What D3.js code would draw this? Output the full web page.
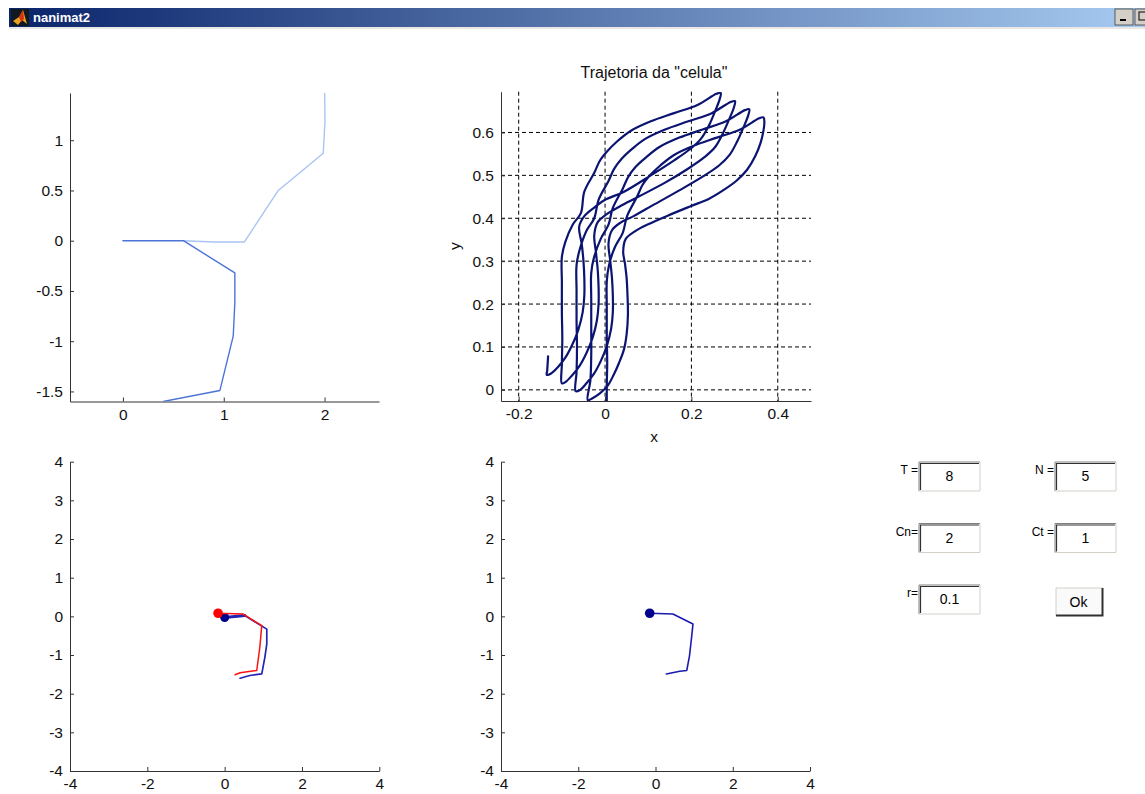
<!DOCTYPE html>
<html>
<head>
<meta charset="utf-8">
<script src="https://cdn.jsdelivr.net/npm/d3@7"></script>
<style>
body { margin: 0; background: #fff; }
svg { display: block; font-family: "Liberation Sans", Arial, sans-serif; }
</style>
</head>
<body>
<script>
// top-left: the "cell" shape, two segments
var shapeDark = [[0,0],[0.6,0],[1.11,-0.32],[1.11,-0.62],[1.094,-0.95],[0.962,-1.49],[0.4,-1.6]];
var shapeLight = [[0.6,0],[0.9,-0.013],[1.204,-0.013],[1.541,0.5],[1.987,0.87],[2.004,1.186],[2.0,1.6]];

// top-right: trajectory of the "celula"
var trajStart = [[-0.132,0.078],[-0.134,0.045],[-0.135,0.035]];
var loop1 = [[-0.125,0.038],[-0.11,0.052],[-0.092,0.075],[-0.076,0.105],[-0.062,0.14],[-0.052,0.18],[-0.048,0.22],[-0.048,0.26],[-0.05,0.3],[-0.054,0.34],[-0.06,0.38],
  [-0.048,0.405],[-0.025,0.425],[0.0,0.443],[0.044,0.462],[0.106,0.5],[0.16,0.535],[0.198,0.562],[0.222,0.585],[0.24,0.615],[0.255,0.65],[0.265,0.676],[0.268,0.692],
  [0.258,0.69],[0.214,0.664],[0.16,0.645],[0.106,0.626],[0.06,0.604],[0.029,0.58],[0.005,0.556],[-0.012,0.534],[-0.025,0.506],[-0.048,0.462],[-0.056,0.412],[-0.075,0.385],[-0.092,0.345],[-0.1,0.31],[-0.1,0.25],[-0.1,0.18],[-0.099,0.12],[-0.1,0.06],[-0.1,0.015]];
var loop2 = [[-0.092,0.018],[-0.077,0.033],[-0.059,0.056],[-0.043,0.086],[-0.029,0.121],[-0.019,0.161],[-0.015,0.2],[-0.015,0.24],[-0.017,0.28],[-0.021,0.32],[-0.025,0.36],
  [-0.017,0.391],[0.003,0.409],[0.033,0.427],[0.077,0.45],[0.139,0.483],[0.193,0.516],[0.231,0.543],[0.255,0.566],[0.273,0.598],[0.288,0.632],[0.298,0.657],[0.301,0.673],
  [0.291,0.671],[0.247,0.645],[0.193,0.626],[0.139,0.607],[0.093,0.585],[0.062,0.561],[0.038,0.538],[0.021,0.515],[0.008,0.487],[-0.015,0.443],[-0.025,0.4],[-0.043,0.371],[-0.059,0.326],[-0.066,0.291],[-0.066,0.231],[-0.066,0.161],[-0.065,0.101],[-0.066,0.041],[-0.068,-0.003]];
var loop3 = [[-0.059,-0.001],[-0.044,0.014],[-0.026,0.037],[-0.01,0.067],[0.004,0.102],[0.014,0.142],[0.018,0.181],[0.018,0.221],[0.016,0.261],[0.012,0.301],[0.008,0.341],
  [0.016,0.372],[0.036,0.39],[0.066,0.405],[0.11,0.43],[0.172,0.465],[0.226,0.497],[0.264,0.523],[0.288,0.547],[0.306,0.579],[0.321,0.613],[0.331,0.638],[0.334,0.654],
  [0.324,0.652],[0.28,0.626],[0.226,0.607],[0.172,0.588],[0.126,0.566],[0.095,0.542],[0.071,0.52],[0.054,0.497],[0.041,0.469],[0.018,0.424],[0.008,0.385],[-0.01,0.352],[-0.026,0.307],[-0.032,0.272],[-0.032,0.212],[-0.032,0.142],[-0.032,0.082],[-0.034,0.022],[-0.04,-0.024]];
var loop4 = [[-0.03,-0.02],[-0.012,-0.008],[0.005,0.008],[0.02,0.035],[0.032,0.062],[0.044,0.095],[0.05,0.13],[0.053,0.175],[0.052,0.22],[0.05,0.26],[0.046,0.295],[0.042,0.322],
  [0.048,0.352],[0.07,0.37],[0.1,0.386],[0.145,0.406],[0.198,0.428],[0.24,0.445],[0.275,0.466],[0.305,0.488],[0.329,0.513],[0.348,0.545],[0.36,0.575],[0.367,0.605],[0.369,0.625],[0.367,0.635],
  [0.357,0.633],[0.313,0.607],[0.259,0.588],[0.205,0.569],[0.159,0.547],[0.128,0.523],[0.104,0.5],[0.087,0.478],[0.074,0.45],[0.051,0.405],[0.041,0.366],[0.023,0.333],[0.009,0.29],[0.004,0.253],[0.004,0.193],[0.004,0.123],[0.005,0.063],[0.004,0.01],[0.004,-0.03]];

// bottom plots: cells with their heads
var blueCell = [[0,-0.03],[0.52,0.02],[1.09,-0.33],[1.09,-0.71],[1.04,-1.06],[0.96,-1.49],[0.65,-1.53],[0.4,-1.6]];
var redCell = [[-0.17,0.08],[0.48,0.06],[0.96,-0.24],[0.91,-0.8],[0.83,-1.4],[0.4,-1.46],[0.27,-1.51]];
var cellRight = [[-0.15,0.08],[0.45,0.06],[0.97,-0.2],[0.93,-0.58],[0.88,-1.02],[0.81,-1.4],[0.63,-1.42],[0.28,-1.49]];

// tick values
var tlX = [0, 1, 2], tlY = [-1.5, -1, -0.5, 0, 0.5, 1];
var trX = [-0.2, 0, 0.2, 0.4], trY = [0, 0.1, 0.2, 0.3, 0.4, 0.5, 0.6];
var bX = [-4, -2, 0, 2, 4], bY = [-4, -3, -2, -1, 0, 1, 2, 3, 4];

// input fields
var paramNames = ["T =", "N =", "Cn=", "Ct =", "r="];
var paramValues = ["8", "5", "2", "1", "0.1"];

var W = 1145, H = 794;
var svg = d3.select("body").append("svg").attr("width", W).attr("height", H);
svg.append("rect").attr("width", W).attr("height", H).attr("fill", "#fff");

// window title bar
var defs = svg.append("defs");
var grad = defs.append("linearGradient").attr("id", "tbar");
grad.append("stop").attr("offset", "0%").attr("stop-color", "#0a246a");
grad.append("stop").attr("offset", "100%").attr("stop-color", "#a6caf0");
svg.append("rect").attr("x", 9).attr("y", 8).attr("width", W - 9).attr("height", 19).attr("fill", "url(#tbar)");
svg.append("line").attr("x1", 9).attr("x2", W).attr("y1", 28).attr("y2", 28).attr("stroke", "#d4d0c8");
// little matlab icon
svg.append("rect").attr("x", 11).attr("y", 9).attr("width", 18).attr("height", 17).attr("fill", "#101820");
svg.append("path").attr("d", "M13,21 L19,17 L23,10 L27,24 L22,20 L18,25 Z").attr("fill", "#e8a020");
svg.append("path").attr("d", "M19,17 L23,10 L24,19 L21,22 Z").attr("fill", "#d83010");
svg.append("text").attr("x", 33).attr("y", 22).attr("fill", "#fff").attr("font-weight", "bold")
  .attr("font-size", 13).text("nanimat2");
svg.append("rect").attr("x", 1115).attr("y", 9).attr("width", 18).attr("height", 16).attr("fill", "#d4d0c8")
  .attr("stroke", "#404040").attr("stroke-width", 0.8);
svg.append("rect").attr("x", 1120).attr("y", 19).attr("width", 6).attr("height", 2).attr("fill", "#000");
svg.append("rect").attr("x", 1135).attr("y", 9).attr("width", 12).attr("height", 16).attr("fill", "#d4d0c8")
  .attr("stroke", "#404040").attr("stroke-width", 0.8);
svg.append("rect").attr("x", 1139).attr("y", 12).attr("width", 8).attr("height", 8).attr("fill", "none").attr("stroke", "#000");

var fmt = function(d) { return String(d); };
var clipN = 0;

function panel(box, xd, yd, xt, yt, grid) {
  var x = d3.scaleLinear().domain(xd).range([box.l, box.r]);
  var y = d3.scaleLinear().domain(yd).range([box.b, box.t]);
  var id = "clip" + (clipN++);
  defs.append("clipPath").attr("id", id).append("rect")
    .attr("x", box.l).attr("y", box.t).attr("width", box.r - box.l).attr("height", box.b - box.t);

  if (grid) {
    var gg = svg.append("g").attr("stroke", "#000").attr("stroke-dasharray", "4,3").attr("stroke-width", 1);
    gg.selectAll(".gx").data(xt).enter().append("line")
      .attr("x1", function(d) { return x(d); }).attr("x2", function(d) { return x(d); })
      .attr("y1", box.t).attr("y2", box.b);
    gg.selectAll(".gy").data(yt).enter().append("line")
      .attr("y1", function(d) { return y(d); }).attr("y2", function(d) { return y(d); })
      .attr("x1", box.l).attr("x2", box.r);
  }

  var ax = svg.append("g").attr("transform", "translate(0," + box.b + ")")
    .call(d3.axisBottom(x).tickValues(xt).tickSize(-4).tickSizeOuter(0).tickPadding(7).tickFormat(fmt));
  var ay = svg.append("g").attr("transform", "translate(" + box.l + ",0)")
    .call(d3.axisLeft(y).tickValues(yt).tickSize(-4).tickSizeOuter(0).tickPadding(7).tickFormat(fmt));
  [ax, ay].forEach(function(a) {
    a.attr("font-family", null).attr("font-size", 15.5);
    a.selectAll("path, line").attr("stroke", "#333");
    a.selectAll("text").attr("fill", "#111");
  });

  var plot = svg.append("g").attr("clip-path", "url(#" + id + ")");
  return { x: x, y: y, g: plot };
}

function drawLine(p, pts, color, w, curve) {
  var line = d3.line().x(function(d) { return p.x(d[0]); }).y(function(d) { return p.y(d[1]); })
    .curve(curve || d3.curveLinear);
  p.g.append("path").datum(pts).attr("d", line).attr("fill", "none")
    .attr("stroke", color).attr("stroke-width", w)
    .attr("stroke-linejoin", "round").attr("stroke-linecap", "round");
}

function drawHead(p, pt, color, r) {
  p.g.append("circle").attr("cx", p.x(pt[0])).attr("cy", p.y(pt[1])).attr("r", r).attr("fill", color);
}

// top-left panel
var p1 = panel({ l: 70, r: 379, t: 93, b: 401.5 }, [-0.525, 2.54], [-1.6, 1.47], tlX, tlY, false);
drawLine(p1, shapeLight, "#a9c4f4", 1.4);
drawLine(p1, shapeDark, "#4a74d6", 1.4);

// top-right panel
var p2 = panel({ l: 501, r: 811, t: 91.7, b: 401 }, [-0.241, 0.477], [-0.026, 0.695], trX, trY, true);
var traj = trajStart.concat(loop1, loop2, loop3, loop4);
drawLine(p2, traj, "#0b1470", 2.2, d3.curveCatmullRom.alpha(0.5));
svg.append("text").attr("x", 654).attr("y", 78).attr("text-anchor", "middle").attr("font-size", 16)
  .attr("fill", "#111").text("Trajetoria da \"celula\"");
svg.append("text").attr("x", 654).attr("y", 442).attr("text-anchor", "middle").attr("font-size", 15.5)
  .attr("fill", "#111").text("x");
svg.append("text").attr("transform", "translate(460,246) rotate(-90)").attr("text-anchor", "middle")
  .attr("font-size", 15.5).attr("fill", "#111").text("y");

// bottom-left panel
var p3 = panel({ l: 70, r: 379.3, t: 461.7, b: 771 }, [-4, 4], [-4, 4], bX, bY, false);
drawLine(p3, blueCell, "#2424b4", 1.7);
drawLine(p3, blueCell.slice(0, 2), "#2424b4", 3);
drawHead(p3, blueCell[0], "#00008c", 4.5);
drawLine(p3, redCell, "#ff1010", 1.5);
drawHead(p3, redCell[0], "#ff0000", 4.8);

// bottom-right panel
var p4 = panel({ l: 501, r: 810, t: 461.7, b: 771 }, [-4, 4], [-4, 4], bX, bY, false);
drawLine(p4, cellRight, "#1a1ab0", 1.6);
drawHead(p4, cellRight[0], "#00008c", 4.8);

// input fields, two columns, three rows
var colX = [919, 1055], rowY = [462, 523.5, 585];
var fieldW = 61, fieldH = 29;
paramNames.forEach(function(name, i) {
  var cx = colX[i % 2], cy = rowY[Math.floor(i / 2)];
  var f = svg.append("g");
  f.append("rect").attr("x", cx).attr("y", cy).attr("width", fieldW).attr("height", fieldH).attr("fill", "#fff");
  f.append("path").attr("d", "M" + cx + "," + (cy + fieldH) + "V" + cy + "H" + (cx + fieldW))
    .attr("fill", "none").attr("stroke", "#808080").attr("stroke-width", 1);
  f.append("path").attr("d", "M" + (cx + 1.5) + "," + (cy + fieldH - 1) + "V" + (cy + 1.5) + "H" + (cx + fieldW - 1))
    .attr("fill", "none").attr("stroke", "#303030").attr("stroke-width", 1.2);
  f.append("path").attr("d", "M" + cx + "," + (cy + fieldH) + "H" + (cx + fieldW) + "V" + cy)
    .attr("fill", "none").attr("stroke", "#d4d0c8").attr("stroke-width", 1);
  f.append("text").attr("x", cx + fieldW / 2).attr("y", cy + 19).attr("text-anchor", "middle")
    .attr("font-size", 14).attr("fill", "#000").text(paramValues[i]);
  f.append("text").attr("x", cx - 1).attr("y", cy + 12).attr("text-anchor", "end")
    .attr("font-size", 12).attr("fill", "#000").text(name);
});

// Ok button
var bx = 1056, by = 588, bw = 47, bh = 28;
svg.append("rect").attr("x", bx).attr("y", by).attr("width", bw).attr("height", bh).attr("fill", "#fafafa");
svg.append("path").attr("d", "M" + bx + "," + (by + bh) + "V" + by + "H" + (bx + bw))
  .attr("fill", "none").attr("stroke", "#d4d0c8");
svg.append("path").attr("d", "M" + bx + "," + (by + bh - 0.5) + "H" + (bx + bw - 0.5) + "V" + by)
  .attr("fill", "none").attr("stroke", "#303030").attr("stroke-width", 2);
svg.append("text").attr("x", bx + bw / 2 - 1).attr("y", by + 19).attr("text-anchor", "middle")
  .attr("font-size", 14).attr("fill", "#000").text("Ok");
</script>
</body>
</html>
